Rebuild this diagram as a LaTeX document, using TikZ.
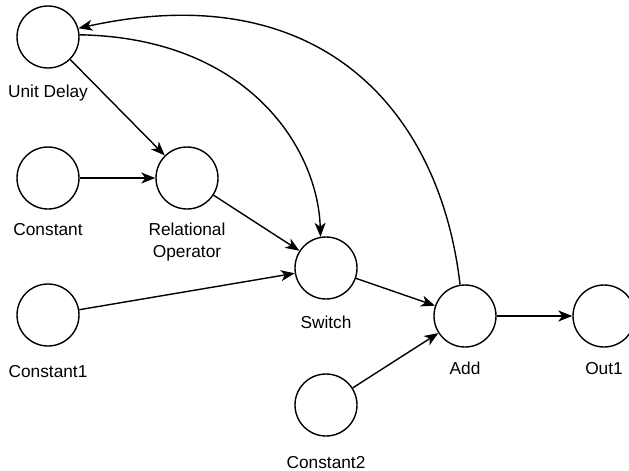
\documentclass[tikz,border=0pt]{standalone}
\usepackage{fontspec}
\setmainfont{Liberation Sans}
\usetikzlibrary{arrows.meta}
\begin{document}
\begin{tikzpicture}[x=1pt,y=-1pt,
  blk/.style={circle,draw,line width=1.4pt,minimum size=62pt,inner sep=0pt,fill=white},
  lbl/.style={anchor=base,inner sep=0pt,font=\fontsize{17.3}{20}\selectfont,align=center},
  conn/.style={line width=1.4pt,-{Stealth[length=14pt,width=11pt,inset=4pt]}}]
\useasboundingbox (0,0) rectangle (629,471);
\begin{scope}
\clip (0,0) rectangle (629,471);
\node[blk] (ud) at (48,37) {};
\node[blk] (c0) at (48,178) {};
\node[blk] (rel) at (187,178) {};
\node[blk] (c1) at (48,315) {};
\node[blk] (sw) at (326,268) {};
\node[blk] (add) at (465,316) {};
\node[blk] (out) at (604,316) {};
\node[blk] (c2) at (326,405) {};
\end{scope}
\node[lbl] (udl) at (48,97) {Unit Delay};
\node[lbl] (c0l) at (48,235) {Constant};
\node[lbl] (rell) at (187,235) {Relational};
\node[lbl] (rell2) at (187,257) {Operator};
\node[lbl] (c1l) at (48,377) {Constant1};
\node[lbl] (swl) at (326,328) {Switch};
\node[lbl] (addl) at (465,374) {Add};
\node[lbl] (outl) at (604,374) {Out1};
\node[lbl] (c2l) at (326,468) {Constant2};
\draw[conn] (ud) -- (rel);
\draw[conn] (c0) -- (rel);
\draw[conn] (rel) -- (sw);
\draw[conn] (c1) -- (sw);
\draw[conn] (sw) -- (add);
\draw[conn] (c2) -- (add);
\draw[conn] (add) -- (out);
\draw[conn] (ud.4) .. controls (250,38) and (318,150) .. (sw.100);
\draw[conn] (add.99) .. controls (440,110) and (320,-25) .. (ud.16);
\end{tikzpicture}
\end{document}
